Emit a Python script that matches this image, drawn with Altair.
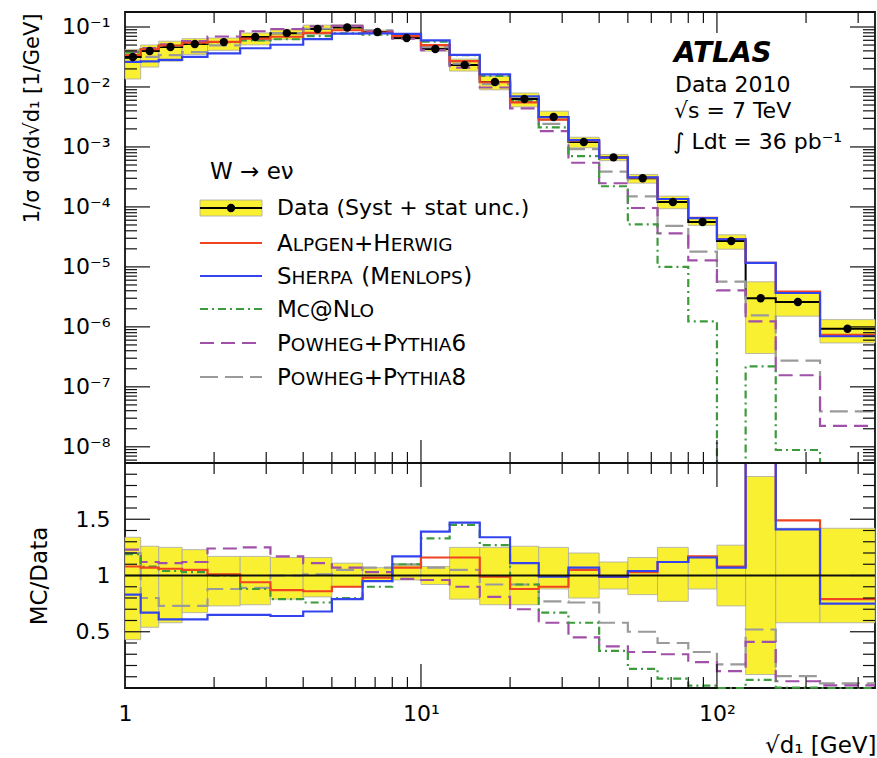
import altair as alt
import pandas as pd

# ---------------------------------------------------------------------------
# W -> e nu : normalised k_t splitting scale sqrt(d1), ATLAS 2010 data vs MC
# ---------------------------------------------------------------------------

# bin edges in sqrt(d1) [GeV]
edges = [1.0, 1.13, 1.3, 1.56, 1.9, 2.45, 3.1, 4.0, 5.0, 6.35, 8.0, 10.0,
         12.5, 15.8, 20.0, 25.0, 31.5, 40.0, 50.0, 63.0, 80.0, 100.0, 125.0,
         158.0, 223.0, 342.0]

# 1/sigma dsigma/dsqrt(d1) [1/GeV], data
data_xs = [0.0316, 0.0398, 0.0464, 0.052, 0.056, 0.068, 0.079, 0.0926,
           0.098, 0.0825, 0.0656, 0.043, 0.0233, 0.0121, 0.0063, 0.00316,
           0.00121, 6.7e-4, 3.0e-4, 1.21e-4, 5.6e-5, 2.7e-5, 3.0e-6, 2.6e-6,
           9.3e-7]

# total (syst + stat) uncertainty band, relative to data
unc_lo = [0.43, 0.54, 0.58, 0.67, 0.73, 0.74, 0.79, 0.81, 0.90, 0.95, 0.96,
          0.92, 0.79, 0.74, 0.74, 0.88, 0.80, 0.88, 0.83, 0.77, 0.88, 0.73,
          0.12, 0.58, 0.58]
unc_hi = [1.34, 1.26, 1.25, 1.23, 1.17, 1.17, 1.16, 1.16, 1.11, 1.07, 1.09,
          1.08, 1.25, 1.25, 1.26, 1.25, 1.20, 1.12, 1.16, 1.25, 1.17, 1.27,
          1.88, 1.42, 1.42]

# MC / Data
ratio_alpgen = [1.08, 1.07, 1.06, 1.05, 1.01, 0.94, 0.87, 0.86, 0.90, 0.98,
                1.07, 1.16, 1.16, 0.99, 0.88, 0.90, 1.05, 0.99, 1.03, 1.12,
                1.17, 1.08, 3.9, 1.49, 0.79]
ratio_sherpa = [0.83, 0.67, 0.61, 0.61, 0.65, 0.65, 0.64, 0.68, 0.79, 0.95,
                1.17, 1.39, 1.47, 1.34, 1.11, 0.99, 1.07, 0.99, 1.04, 1.12,
                1.16, 1.07, 3.9, 1.41, 0.75]
ratio_mcnlo = [1.19, 1.08, 1.04, 1.03, 1.0, 0.88, 0.79, 0.76, 0.80, 0.90,
               1.10, 1.33, 1.45, 1.27, 0.92, 0.67, 0.58, 0.33, 0.17, 0.083,
               0.022, 0.0001, 0.073, 0.0034, 0.0001]
ratio_powheg6 = [1.23, 1.12, 1.11, 1.12, 1.24, 1.25, 1.17, 1.11, 1.07, 1.03,
                 0.97, 0.96, 0.90, 0.81, 0.70, 0.58, 0.45, 0.37, 0.32, 0.30,
                 0.23, 0.15, 0.41, 0.06, 0.024]
ratio_powheg8 = [1.20, 0.80, 0.73, 0.73, 0.88, 0.89, 1.0, 1.01, 1.05, 1.07,
                 1.10, 1.07, 1.05, 0.92, 0.92, 0.77, 0.76, 0.58, 0.50, 0.40,
                 0.32, 0.21, 0.52, 0.105, 0.042]

# axis tick values
x_label_values = [1, 10, 100]
x_major = [10, 100]
x_minor = [2, 3, 4, 5, 6, 7, 8, 9, 20, 30, 40, 50, 60, 70, 80, 90, 200, 300]
y_top_major = [1e-1, 1e-2, 1e-3, 1e-4, 1e-5, 1e-6, 1e-7, 1e-8]
ratio_major = [0.5, 1.0, 1.5]

# ---------------------------------------------------------------------------
FONT = "DejaVu Sans"
INK = "#111111"
YELLOW = "#faf032"
W = 750
H_TOP = 451
H_RAT = 225
H = H_TOP + H_RAT
X_MAX = edges[-1]
Y_MIN, Y_MAX = 10 ** -8.27, 10 ** -0.75

x_scale = alt.Scale(type="log", domain=[1, X_MAX], nice=False)
# both panels share one view; each y scale maps onto its own pixel band
y_top = alt.Scale(type="log", domain=[Y_MIN, Y_MAX], nice=False, clamp=True,
                  range=[H_TOP, 0])
y_rat = alt.Scale(type="linear", domain=[0, 2], nice=False, zero=False,
                  clamp=True, range=[H, H_TOP])

MODELS = [
    ("Powheg+Pythia8", ratio_powheg8, "#9a9a9a", [18, 7]),
    ("Powheg+Pythia6", ratio_powheg6, "#a050a8", [14, 7]),
    ("MC@NLO", ratio_mcnlo, "#3d9a3d", [8, 4, 2, 4]),
    ("Alpgen+Herwig", ratio_alpgen, "#ee4422", [1, 0]),
    ("Sherpa", ratio_sherpa, "#3344ee", [1, 0]),
]
names = [m[0] for m in MODELS]

nb = len(data_xs)
bins = pd.DataFrame({
    "lo": edges[:-1],
    "hi": edges[1:],
    "center": [(edges[i] * edges[i + 1]) ** 0.5 for i in range(nb)],
    "data": data_xs,
    "r_lo": unc_lo,
    "r_hi": unc_hi,
})
bins["xs_lo"] = bins["data"] * bins["r_lo"]
bins["xs_hi"] = bins["data"] * bins["r_hi"]

# step-histogram points (value held from each lower edge, last edge closes)
step_data = pd.DataFrame({
    "x": edges,
    "xs": [data_xs[min(i, nb - 1)] for i in range(len(edges))],
})
rows = []
for name, r, _, _ in MODELS:
    for i, e in enumerate(edges):
        k = min(i, nb - 1)
        rows.append({"model": name, "i": i, "x": e, "ratio": r[k],
                     "xs": data_xs[k] * r[k]})
models = pd.DataFrame(rows)

color_enc = alt.Color("model:N", legend=None,
                      scale=alt.Scale(domain=names, range=[m[2] for m in MODELS]))
dash_enc = alt.StrokeDash("model:N", legend=None,
                          scale=alt.Scale(domain=names, range=[m[3] for m in MODELS]))

# ------------------------------ axes ---------------------------------------
top_axis = alt.Axis(
    orient="left", values=y_top_major, grid=False, ticks=False, domain=False,
    tickSize=0, labelPadding=15, labelFontSize=22, labelFlush=False,
    labelExpr="'10' + ['', '⁻¹', '⁻²', '⁻³', '⁻⁴', '⁻⁵', '⁻⁶', '⁻⁷', '⁻⁸', '⁻⁹']"
              "[round(-log(datum.value) / LN10)]",
    title="1/σ dσ/d√d₁ [1/GeV]", titleFontSize=21, titleAngle=270,
    titleX=-93, titleY=1, titleAlign="right", titleBaseline="middle",
)
rat_axis = alt.Axis(
    orient="left", values=ratio_major, grid=False, ticks=False, domain=False,
    tickSize=0, labelPadding=15, labelFontSize=22, labelFlush=False,
    labelExpr="datum.value == 1 ? '1' : toString(datum.value)",
    title="MC/Data", titleFontSize=23, titleAngle=270,
    titleX=-86, titleY=H_TOP + H_RAT / 2, titleAlign="center", titleBaseline="middle",
)
# the x scale is shared by every layer, so every layer carries the same axis
x_axis = alt.Axis(
    orient="bottom", values=x_label_values, grid=False, ticks=False, domain=False,
    tickSize=0, labelPadding=15, labelFontSize=22, labelFlush=False,
    labelExpr="datum.value == 1 ? '1' : (datum.value == 10 ? '10¹' : '10²')",
    title="√d₁ [GeV]", titleFontSize=23, titleX=W + 1, titleY=57,
    titleAlign="right", titleBaseline="middle",
)


def X(f):
    return alt.X(f, scale=x_scale, axis=x_axis)


# ------------------------------ top panel ----------------------------------
top_band = alt.Chart(bins).mark_rect(fill=YELLOW, stroke="#a8a8a8", strokeWidth=0.8).encode(
    x=X("lo:Q"), x2="hi:Q",
    y=alt.Y("xs_lo:Q", scale=y_top, axis=top_axis), y2="xs_hi:Q")

top_data = alt.Chart(step_data).mark_line(interpolate="step-after", color="black",
                                          strokeWidth=2).encode(
    x=X("x:Q"), y=alt.Y("xs:Q", scale=y_top, axis=None))

top_models = alt.Chart(models).mark_line(interpolate="step-after", strokeWidth=2.2).encode(
    x=X("x:Q"), y=alt.Y("xs:Q", scale=y_top, axis=None),
    color=color_enc, strokeDash=dash_enc, order="i:Q")

top_points = alt.Chart(bins).mark_circle(size=70, color="black", opacity=1).encode(
    x=X("center:Q"), y=alt.Y("data:Q", scale=y_top, axis=None))

y_top_minor = [m * 10.0 ** k for k in range(-9, 0) for m in range(2, 10)
               if Y_MIN <= m * 10.0 ** k <= Y_MAX]


def y_ticks(vals, scale, x0, x1):
    return alt.Chart(pd.DataFrame({"v": vals})).mark_rule(color=INK, strokeWidth=1.2).encode(
        y=alt.Y("v:Q", scale=scale, axis=None), x=alt.value(x0), x2=alt.value(x1))


# ----------------------------- ratio panel ---------------------------------
rat_band = alt.Chart(bins).mark_rect(fill=YELLOW, stroke="#a8a8a8", strokeWidth=0.8).encode(
    x=X("lo:Q"), x2="hi:Q",
    y=alt.Y("r_lo:Q", scale=y_rat, axis=rat_axis), y2="r_hi:Q")

rat_one = alt.Chart(pd.DataFrame({"one": [1.0]})).mark_rule(color=INK, strokeWidth=2).encode(
    y=alt.Y("one:Q", scale=y_rat, axis=None), x=alt.value(0), x2=alt.value(W))

rat_models = alt.Chart(models).mark_line(interpolate="step-after", strokeWidth=2.2).encode(
    x=X("x:Q"), y=alt.Y("ratio:Q", scale=y_rat, axis=None),
    color=color_enc, strokeDash=dash_enc, order="i:Q")

ratio_minor = [round(0.1 * i, 1) for i in range(1, 20) if round(0.1 * i, 1) not in ratio_major]

ticks = [
    y_ticks(y_top_major, y_top, 0, 25), y_ticks(y_top_major, y_top, W - 25, W),
    y_ticks(y_top_minor, y_top, 0, 12), y_ticks(y_top_minor, y_top, W - 12, W),
    y_ticks(ratio_major, y_rat, 0, 25), y_ticks(ratio_major, y_rat, W - 25, W),
    y_ticks(ratio_minor, y_rat, 0, 12), y_ticks(ratio_minor, y_rat, W - 12, W),
]

# ------------------------ frame, x ticks, labels ---------------------------
dummy = pd.DataFrame({"d": [0]})


def x_ticks(vals, y0, y1):
    return alt.Chart(pd.DataFrame({"x": vals})).mark_rule(color=INK, strokeWidth=1.2).encode(
        x=X("x:Q"), y=alt.value(y0), y2=alt.value(y1))


deco = [
    x_ticks(x_minor, 0, 11), x_ticks(x_major, 0, 21),
    x_ticks(x_minor, H_TOP - 11, H_TOP + 11), x_ticks(x_major, H_TOP - 23, H_TOP + 24),
    x_ticks(x_minor, H - 11, H), x_ticks(x_major, H - 24, H),
    alt.Chart(dummy).mark_rule(color=INK, strokeWidth=1.8).encode(
        x=alt.value(0), x2=alt.value(W), y=alt.value(H_TOP)),
]


def text(t, x, y, size, **kw):
    style = dict(font=FONT, fontSize=size, align="left", baseline="middle", color="black")
    style.update(kw)
    return alt.Chart(dummy).mark_text(text=t, **style).encode(x=alt.value(x), y=alt.value(y))


deco += [
    text("ATLAS", 549, 42, 28, fontStyle="italic", fontWeight="bold"),
    text("Data 2010", 550, 73, 22),
    text("√s = 7 TeV", 549, 99, 22),
    text("∫ Ldt = 36 pb⁻¹", 548, 130, 22),
    text("W → eν", 85, 160, 23),
]

# legend ---------------------------------------------------------------------
LEG_X0, LEG_X1, TXT_X = 75, 137, 152
ROW_Y = [196, 231, 264, 297, 331, 365]
BIG, SMALL = 23, 18.5
DV = {"A": 0.684, "C": 0.698, "E": 0.632, "G": 0.775, "H": 0.752, "I": 0.295,
      "L": 0.557, "M": 0.863, "N": 0.748, "O": 0.787, "P": 0.603, "R": 0.695,
      "S": 0.635, "T": 0.611, "W": 0.989, "Y": 0.611, "+": 0.838, "@": 1.0,
      "(": 0.390, ")": 0.390, " ": 0.318, "6": 0.636, "8": 0.636}


def small_caps(parts, x, y):
    out = []
    base = y + 0.729 * BIG / 2
    for s, big in parts:
        size = BIG if big else SMALL
        if s.strip():
            out.append(text(s, x, base, size, baseline="alphabetic"))
        x += sum(DV.get(c, 0.6) for c in s) * size
    return out


sc_labels = [
    [("A", 1), ("LPGEN", 0), ("+", 1), ("H", 1), ("ERWIG", 0)],
    [("S", 1), ("HERPA", 0), (" ", 1), ("(", 1), ("M", 1), ("ENLOPS", 0), (")", 1)],
    [("M", 1), ("C", 0), ("@", 1), ("N", 1), ("LO", 0)],
    [("P", 1), ("OWHEG", 0), ("+", 1), ("P", 1), ("YTHIA", 0), ("6", 1)],
    [("P", 1), ("OWHEG", 0), ("+", 1), ("P", 1), ("YTHIA", 0), ("8", 1)],
]
leg_style = {"Alpgen+Herwig": 0, "Sherpa": 1, "MC@NLO": 2,
             "Powheg+Pythia6": 3, "Powheg+Pythia8": 4}

deco += [
    alt.Chart(dummy).mark_rect(fill=YELLOW, stroke="#a8a8a8", strokeWidth=0.8).encode(
        x=alt.value(LEG_X0), x2=alt.value(LEG_X1),
        y=alt.value(ROW_Y[0] - 8), y2=alt.value(ROW_Y[0] + 8)),
    alt.Chart(dummy).mark_rule(color="black", strokeWidth=2).encode(
        x=alt.value(LEG_X0), x2=alt.value(LEG_X1), y=alt.value(ROW_Y[0])),
    alt.Chart(dummy).mark_circle(size=70, color="black", opacity=1).encode(
        x=alt.value((LEG_X0 + LEG_X1) / 2), y=alt.value(ROW_Y[0])),
    text("Data (Syst + stat unc.)", TXT_X, ROW_Y[0], 22),
]
for name, _, col, dash in MODELS:
    k = leg_style[name]
    y = ROW_Y[k + 1]
    deco.append(alt.Chart(dummy).mark_rule(color=col, strokeWidth=2.2, strokeDash=dash).encode(
        x=alt.value(LEG_X0), x2=alt.value(LEG_X1), y=alt.value(y)))
    deco += small_caps(sc_labels[k], TXT_X, y)

# ------------------------------- assemble ----------------------------------
chart = alt.layer(
    top_band, rat_band, top_data, top_models, top_points,
    rat_models, rat_one, *ticks, *deco,
).resolve_scale(y="independent").properties(
    width=W, height=H,
    autosize=alt.AutoSizeParams(type="none"),
    padding={"left": 125, "top": 12, "right": 2, "bottom": 70},
).configure_view(stroke=INK, strokeWidth=1.8).configure_axis(
    labelFont=FONT, titleFont=FONT, labelColor="black", titleColor="black",
    titleFontWeight="normal",
)

chart.save("out.html", embed_options={"renderer": "svg", "actions": False})
